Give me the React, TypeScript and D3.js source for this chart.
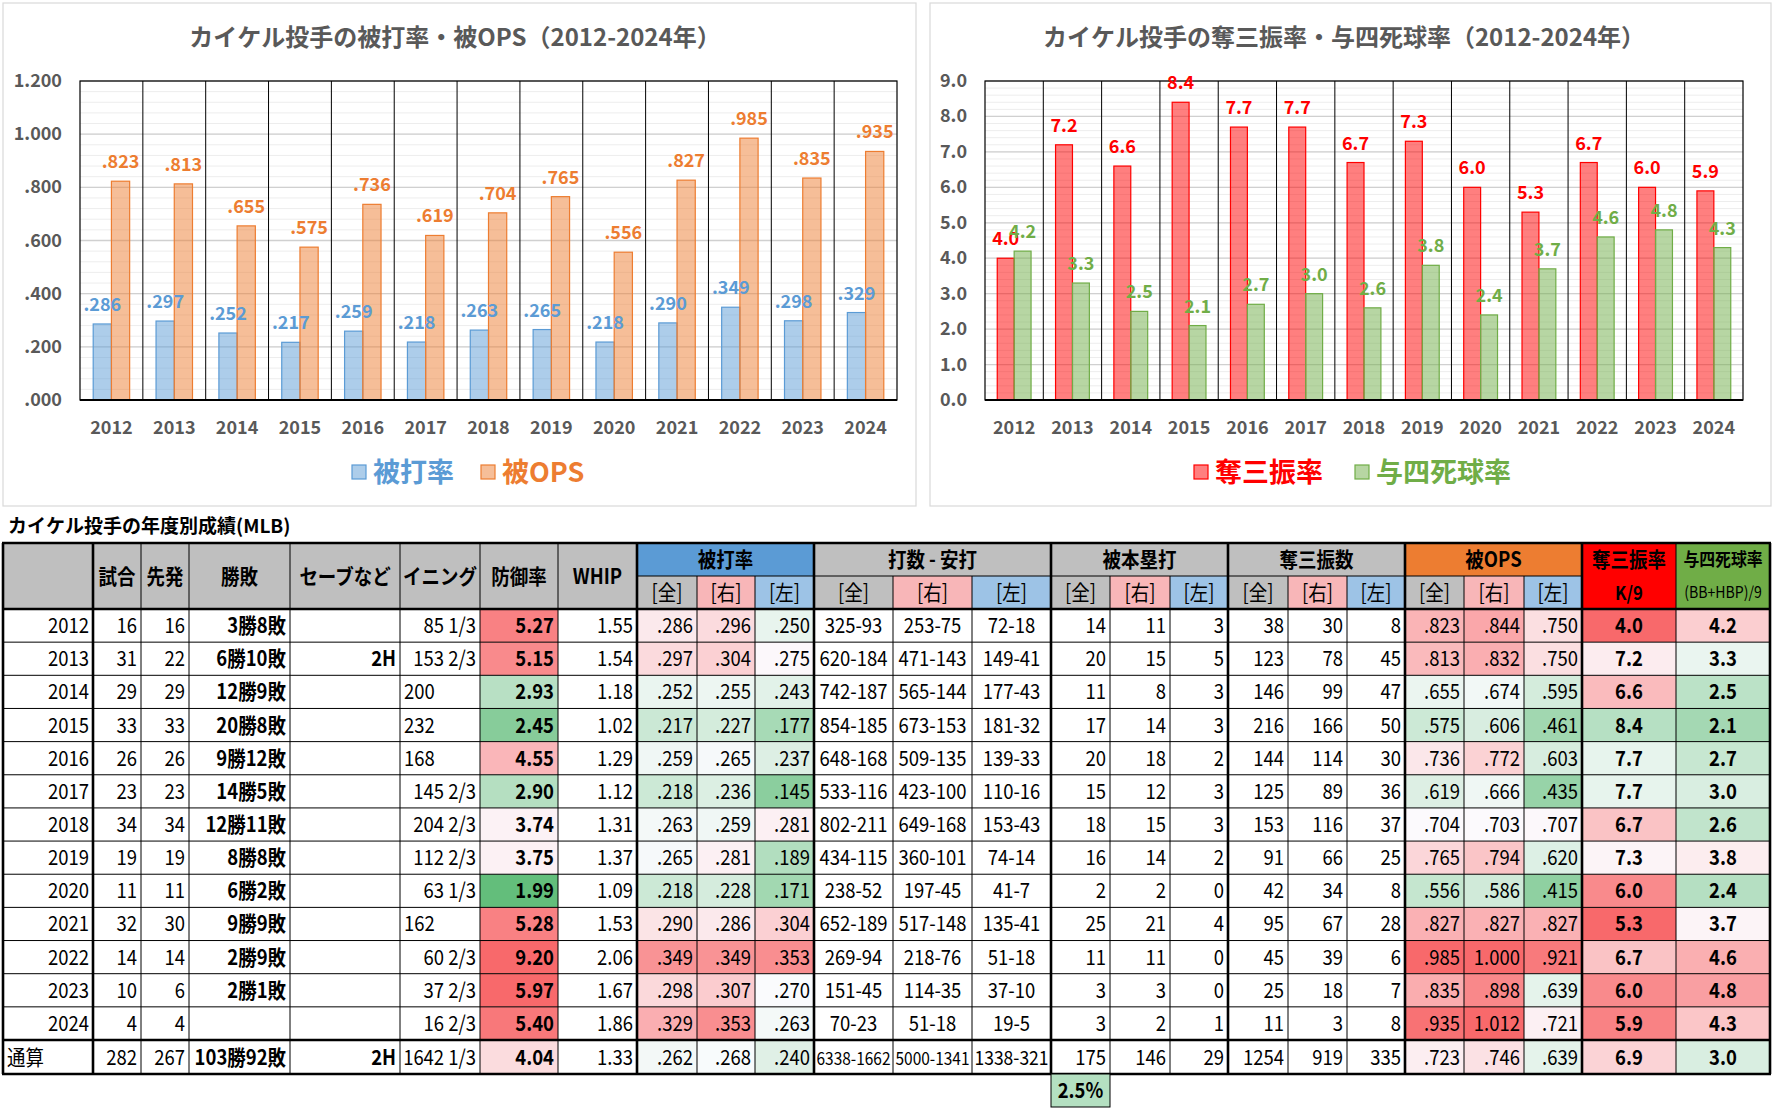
import React, { useLayoutEffect, useRef } from 'react';
import * as d3 from 'd3';

// ---------------- DATA ----------------
const years = [2012, 2013, 2014, 2015, 2016, 2017, 2018, 2019, 2020, 2021, 2022, 2023, 2024];
const games = [16, 31, 29, 33, 26, 23, 34, 19, 11, 32, 14, 10, 4];
const starts = [16, 22, 29, 33, 26, 23, 34, 19, 11, 30, 14, 6, 4];
const winLoss = ['3勝8敗', '6勝10敗', '12勝9敗', '20勝8敗', '9勝12敗', '14勝5敗', '12勝11敗', '8勝8敗', '6勝2敗', '9勝9敗', '2勝9敗', '2勝1敗', ''];
const saves = ['', '2H', '', '', '', '', '', '', '', '', '', '', ''];
const innings = ['85 1/3', '153 2/3', '200', '232', '168', '145 2/3', '204 2/3', '112 2/3', '63 1/3', '162', '60 2/3', '37 2/3', '16 2/3'];
const era = [5.27, 5.15, 2.93, 2.45, 4.55, 2.90, 3.74, 3.75, 1.99, 5.28, 9.20, 5.97, 5.40];
const whip = [1.55, 1.54, 1.18, 1.02, 1.29, 1.12, 1.31, 1.37, 1.09, 1.53, 2.06, 1.67, 1.86];
const avgAll = [0.286, 0.297, 0.252, 0.217, 0.259, 0.218, 0.263, 0.265, 0.218, 0.290, 0.349, 0.298, 0.329];
const avgR = [0.296, 0.304, 0.255, 0.227, 0.265, 0.236, 0.259, 0.281, 0.228, 0.286, 0.349, 0.307, 0.353];
const avgL = [0.250, 0.275, 0.243, 0.177, 0.237, 0.145, 0.281, 0.189, 0.171, 0.304, 0.353, 0.270, 0.263];
const abhAll = ['325-93', '620-184', '742-187', '854-185', '648-168', '533-116', '802-211', '434-115', '238-52', '652-189', '269-94', '151-45', '70-23'];
const abhR = ['253-75', '471-143', '565-144', '673-153', '509-135', '423-100', '649-168', '360-101', '197-45', '517-148', '218-76', '114-35', '51-18'];
const abhL = ['72-18', '149-41', '177-43', '181-32', '139-33', '110-16', '153-43', '74-14', '41-7', '135-41', '51-18', '37-10', '19-5'];
const hrAll = [14, 20, 11, 17, 20, 15, 18, 16, 2, 25, 11, 3, 3];
const hrR = [11, 15, 8, 14, 18, 12, 15, 14, 2, 21, 11, 3, 2];
const hrL = [3, 5, 3, 3, 2, 3, 3, 2, 0, 4, 0, 0, 1];
const soAll = [38, 123, 146, 216, 144, 125, 153, 91, 42, 95, 45, 25, 11];
const soR = [30, 78, 99, 166, 114, 89, 116, 66, 34, 67, 39, 18, 3];
const soL = [8, 45, 47, 50, 30, 36, 37, 25, 8, 28, 6, 7, 8];
const opsAll = [0.823, 0.813, 0.655, 0.575, 0.736, 0.619, 0.704, 0.765, 0.556, 0.827, 0.985, 0.835, 0.935];
const opsR = [0.844, 0.832, 0.674, 0.606, 0.772, 0.666, 0.703, 0.794, 0.586, 0.827, 1.000, 0.898, 1.012];
const opsL = [0.750, 0.750, 0.595, 0.461, 0.603, 0.435, 0.707, 0.620, 0.415, 0.827, 0.921, 0.639, 0.721];
const k9 = [4.0, 7.2, 6.6, 8.4, 7.7, 7.7, 6.7, 7.3, 6.0, 5.3, 6.7, 6.0, 5.9];
const bb9 = [4.2, 3.3, 2.5, 2.1, 2.7, 3.0, 2.6, 3.8, 2.4, 3.7, 4.6, 4.8, 4.3];
const totalRow: (string | number)[] = ['通算', 282, 267, '103勝92敗', '2H', '1642 1/3', 4.04, 1.33, 0.262, 0.268, 0.240, '6338-1662', '5000-1341', '1338-321', 175, 146, 29, 1254, 919, 335, 0.723, 0.746, 0.639, 6.9, 3.0];
const hrRateText = '2.5%';

const headerSingles = ['', '試合', '先発', '勝敗', 'セーブなど', 'イニング', '防御率', 'WHIP'];
const headerGroups = ['被打率', '打数 - 安打', '被本塁打', '奪三振数', '被OPS'];
const subHeaders = ['[全]', '[右]', '[左]'];

const chart1Title = 'カイケル投手の被打率・被OPS（2012-2024年）';
const chart2Title = 'カイケル投手の奪三振率・与四死球率（2012-2024年）';
const tableTitle = 'カイケル投手の年度別成績(MLB)';

// ---------------- STYLE ----------------
const FONT = '"Noto Sans CJK JP", "Noto Sans", sans-serif';
const GREEN = '#63BE7B', WHITE = '#FCFCFF', RED = '#F8696B';
const cs = (dom: number[], reverse = false) =>
  d3.scaleLinear<string>().domain(dom).range(reverse ? [RED, WHITE, GREEN] : [GREEN, WHITE, RED]).clamp(true);
const eraColor = cs([2.1, 3.6, 5.6]);
const avgColor = cs([0.10, 0.272, 0.38]);
const opsColor = cs([0.30, 0.70, 0.95]);
const k9Color = cs([5.6, 7.4, 9.6], true);
const bb9Color = cs([1.0, 3.6, 5.5]);

const fmt3 = (v: number) => v.toFixed(3).replace(/^0\./, '.');
const fmt2 = (v: number) => v.toFixed(2);
const fmt1 = (v: number) => v.toFixed(1);

// ---------------- CHART ----------------
type Series = { values: number[]; stroke: string; fill: string; fmt: (v: number) => string; name: string; legendX: number };
type ChartProps = {
  panel: { x: number; y: number; w: number; h: number };
  plot: { l: number; t: number; r: number; b: number };
  title: string; titleX: number;
  yMax: number; major: number; minor: number; yFmt: (v: number) => string;
  series: Series[];
};

function BarChart({ panel, plot, title, titleX, yMax, major, minor, yFmt, series }: ChartProps) {
  const x = d3.scaleBand<string>().domain(years.map(String)).range([plot.l, plot.r]);
  const y = d3.scaleLinear().domain([0, yMax]).range([plot.b, plot.t]);
  const minorTicks = d3.range(0, Math.round(yMax / minor) + 1).map((i) => i * minor);
  const majorTicks = d3.range(0, Math.round(yMax / major) + 1).map((i) => i * major);
  const bw = x.bandwidth() * 0.29;
  const gx = (yr: number, k: number) => (x(String(yr)) as number) + (x.bandwidth() - bw * series.length) / 2 + k * bw;
  return (
    <g>
      <rect x={panel.x} y={panel.y} width={panel.w} height={panel.h} fill="#fff" stroke="#D9D9D9" strokeWidth={1.2} />
      <text x={titleX} y={46} textAnchor="middle" fontSize={24} fontWeight="bold" fill="#595959" fontFamily={FONT}>{title}</text>
      {minorTicks.map((t, i) => (
        <line key={'mn' + i} x1={plot.l} x2={plot.r} y1={y(t)} y2={y(t)} stroke="#EDEDED" strokeWidth={1} />
      ))}
      {majorTicks.map((t, i) => (
        <line key={'mj' + i} x1={plot.l} x2={plot.r} y1={y(t)} y2={y(t)} stroke="#D0D0D0" strokeWidth={1.3} />
      ))}
      {years.slice(1).map((yr) => (
        <line key={'v' + yr} x1={x(String(yr))} x2={x(String(yr))} y1={plot.t} y2={plot.b} stroke="#000" strokeWidth={1} />
      ))}
      {series.map((s, k) =>
        years.map((yr, i) => (
          <rect key={'b' + k + '-' + yr} x={gx(yr, k)} y={y(s.values[i])} width={bw} height={plot.b - y(s.values[i])}
            fill={s.fill} stroke={s.stroke} strokeWidth={1.2} />
        ))
      )}
      <rect x={plot.l} y={plot.t} width={plot.r - plot.l} height={plot.b - plot.t} fill="none" stroke="#000" strokeWidth={1.2} />
      <line x1={plot.l} x2={plot.r} y1={plot.b} y2={plot.b} stroke="#000" strokeWidth={2} />
      {series.map((s, k) =>
        years.map((yr, i) => (
          <text key={'l' + k + '-' + yr} x={gx(yr, k) + bw / 2} y={y(s.values[i]) - 13} textAnchor="middle" fontSize={18}
            fontWeight="bold" fill={s.stroke} fontFamily={FONT}>{s.fmt(s.values[i])}</text>
        ))
      )}
      {years.map((yr) => (
        <text key={'x' + yr} x={(x(String(yr)) as number) + x.bandwidth() / 2} y={434} textAnchor="middle" fontSize={18}
          fontWeight="bold" fill="#595959" fontFamily={FONT}>{yr}</text>
      ))}
      {majorTicks.map((t, i) => (
        <text key={'y' + i} x={plot.l - 18} y={y(t) + 6} textAnchor="end" fontSize={18} fontWeight="bold" fill="#595959" fontFamily={FONT}>{yFmt(t)}</text>
      ))}
      {series.map((s, k) => (
        <g key={'lg' + k}>
          <rect x={s.legendX} y={465} width={14} height={14} fill={s.fill} stroke={s.stroke} strokeWidth={1.2} />
          <text x={s.legendX + 21} y={482} fontSize={27} fontWeight="bold" fill={s.stroke} fontFamily={FONT}>{s.name}</text>
        </g>
      ))}
    </g>
  );
}

// ---------------- TABLE ----------------
const edges = [3, 93, 141, 189, 290, 400, 480, 558, 637, 697, 755, 814, 893, 972, 1051, 1110, 1170, 1228, 1288, 1347, 1405, 1464, 1524, 1582, 1676, 1770];
const T_TOP = 543, H1 = 576, H2 = 609, D_BOT = 1040, T_BOT = 1074;
const ROW_H = (D_BOT - H2) / years.length;
const thickIdx = [0, 1, 8, 11, 14, 17, 20, 23, 25];
const SX = 0.88;
const FS = 21;

type Col = { data: (string | number)[]; fmt?: (v: number) => string; align: 'left' | 'right' | 'center' | 'auto'; bold?: boolean; color?: (v: number) => string };
const cols: Col[] = [
  { data: years, align: 'right' },
  { data: games, align: 'right' },
  { data: starts, align: 'right' },
  { data: winLoss, align: 'right', bold: true },
  { data: saves, align: 'right', bold: true },
  { data: innings, align: 'auto' },
  { data: era, align: 'right', bold: true, fmt: fmt2, color: eraColor },
  { data: whip, align: 'right', fmt: fmt2 },
  { data: avgAll, align: 'right', fmt: fmt3, color: avgColor },
  { data: avgR, align: 'right', fmt: fmt3, color: avgColor },
  { data: avgL, align: 'right', fmt: fmt3, color: avgColor },
  { data: abhAll, align: 'center' },
  { data: abhR, align: 'center' },
  { data: abhL, align: 'center' },
  { data: hrAll, align: 'right' },
  { data: hrR, align: 'right' },
  { data: hrL, align: 'right' },
  { data: soAll, align: 'right' },
  { data: soR, align: 'right' },
  { data: soL, align: 'right' },
  { data: opsAll, align: 'right', fmt: fmt3, color: opsColor },
  { data: opsR, align: 'right', fmt: fmt3, color: opsColor },
  { data: opsL, align: 'right', fmt: fmt3, color: opsColor },
  { data: k9, align: 'center', bold: true, fmt: fmt1, color: k9Color },
  { data: bb9, align: 'center', bold: true, fmt: fmt1, color: bb9Color },
];

function CText({ x, y, anchor, bold, size = FS, sx = SX, maxw, children, fill = '#000' }: any) {
  return (
    <text transform={`translate(${x},${y}) scale(${sx},1)`} textAnchor={anchor} fontSize={size} fontWeight={bold ? 'bold' : 'normal'}
      fill={fill} fontFamily={FONT} data-maxw={maxw} data-sx={sx} data-fs={size}>{children}</text>
  );
}

function cellTextEl(key: string, text: string, j: number, top: number, h: number, align: string, bold?: boolean) {
  const l = edges[j], r = edges[j + 1];
  let a = align;
  if (a === 'auto') a = text.includes('/') ? 'right' : 'left';
  const x = a === 'right' ? r - 4 : a === 'left' ? l + 4 : (l + r) / 2;
  const anchor = a === 'right' ? 'end' : a === 'left' ? 'start' : 'middle';
  return <CText key={key} x={x} y={top + h / 2 + 7.5} anchor={anchor} bold={bold} maxw={r - l - 5}>{text}</CText>;
}

const groupFill = ['#5B9BD5', '#BFBFBF', '#BFBFBF', '#BFBFBF', '#ED7D31'];
const subFill = ['#BFBFBF', '#F8B6B8', '#9DC3E6'];

function Table() {
  const fills: JSX.Element[] = [];
  const texts: JSX.Element[] = [];
  const lines: JSX.Element[] = [];
  headerSingles.forEach((h, j) => {
    fills.push(<rect key={'hs' + j} x={edges[j]} y={T_TOP} width={edges[j + 1] - edges[j]} height={H2 - T_TOP} fill="#BFBFBF" />);
    if (h) texts.push(<CText key={'hst' + j} x={(edges[j] + edges[j + 1]) / 2} y={(T_TOP + H2) / 2 + 7.5} anchor="middle" bold>{h}</CText>);
  });
  headerGroups.forEach((g, gi) => {
    const j0 = 8 + gi * 3;
    fills.push(<rect key={'hg' + gi} x={edges[j0]} y={T_TOP} width={edges[j0 + 3] - edges[j0]} height={H1 - T_TOP} fill={groupFill[gi]} />);
    texts.push(<CText key={'hgt' + gi} x={(edges[j0] + edges[j0 + 3]) / 2} y={(T_TOP + H1) / 2 + 7.5} anchor="middle" bold>{g}</CText>);
    subHeaders.forEach((s, si) => {
      const j = j0 + si;
      fills.push(<rect key={'sh' + j} x={edges[j]} y={H1} width={edges[j + 1] - edges[j]} height={H2 - H1} fill={subFill[si]} />);
      texts.push(<CText key={'sht' + j} x={(edges[j] + edges[j + 1]) / 2} y={(H1 + H2) / 2 + 7.5} anchor="middle">{s}</CText>);
    });
  });
  fills.push(<rect key="hk" x={edges[23]} y={T_TOP} width={edges[24] - edges[23]} height={H2 - T_TOP} fill="#FF0000" />);
  fills.push(<rect key="hb" x={edges[24]} y={T_TOP} width={edges[25] - edges[24]} height={H2 - T_TOP} fill="#70AD47" />);
  texts.push(<CText key="hkt1" x={(edges[23] + edges[24]) / 2} y={(T_TOP + H1) / 2 + 7.5} anchor="middle" bold>奪三振率</CText>);
  texts.push(<CText key="hkt2" x={(edges[23] + edges[24]) / 2} y={(H1 + H2) / 2 + 7.5} anchor="middle" bold size={19}>K/9</CText>);
  texts.push(<CText key="hbt1" x={(edges[24] + edges[25]) / 2} y={(T_TOP + H1) / 2 + 6.5} anchor="middle" bold size={18}>与四死球率</CText>);
  texts.push(<CText key="hbt2" x={(edges[24] + edges[25]) / 2} y={(H1 + H2) / 2 + 5.5} anchor="middle" size={16} maxw={edges[25] - edges[24] - 3}>(BB+HBP)/9</CText>);

  years.forEach((yr, i) => {
    const top = H2 + i * ROW_H;
    cols.forEach((c, j) => {
      const v = c.data[i];
      const text = typeof v === 'number' ? (c.fmt ? c.fmt(v) : String(v)) : v;
      const fill = c.color && typeof v === 'number' ? c.color(v) : '#fff';
      fills.push(<rect key={`d${i}-${j}`} x={edges[j]} y={top} width={edges[j + 1] - edges[j]} height={ROW_H} fill={fill} />);
      if (text) texts.push(cellTextEl(`dt${i}-${j}`, text, j, top, ROW_H, c.align, c.bold));
    });
  });
  cols.forEach((c, j) => {
    const v = totalRow[j];
    const text = typeof v === 'number' ? (c.fmt ? c.fmt(v) : String(v)) : v;
    const fill = c.color && typeof v === 'number' ? c.color(v) : '#fff';
    fills.push(<rect key={`t${j}`} x={edges[j]} y={D_BOT} width={edges[j + 1] - edges[j]} height={T_BOT - D_BOT} fill={fill} />);
    texts.push(cellTextEl(`tt${j}`, text, j, D_BOT, T_BOT - D_BOT, j === 0 ? 'left' : c.align, c.bold));
  });

  for (let i = 1; i < years.length; i++) {
    const yy = H2 + i * ROW_H;
    lines.push(<line key={'hl' + i} x1={edges[0]} x2={edges[25]} y1={yy} y2={yy} stroke="#000" strokeWidth={1} />);
  }
  lines.push(<line key="h1" x1={edges[8]} x2={edges[23]} y1={H1} y2={H1} stroke="#000" strokeWidth={1} />);
  const subOnly = new Set([9, 10, 12, 13, 15, 16, 18, 19, 21, 22]);
  edges.forEach((e, k) => {
    lines.push(<line key={'vl' + k} x1={e} x2={e} y1={subOnly.has(k) ? H1 : T_TOP} y2={T_BOT} stroke="#000" strokeWidth={1} />);
  });
  [T_TOP, H2, D_BOT, T_BOT].forEach((yy, k) => {
    lines.push(<line key={'th' + k} x1={edges[0] - 1} x2={edges[25] + 1} y1={yy} y2={yy} stroke="#000" strokeWidth={2.6} />);
  });
  thickIdx.forEach((k) => {
    lines.push(<line key={'tv' + k} x1={edges[k]} x2={edges[k]} y1={T_TOP} y2={T_BOT} stroke="#000" strokeWidth={2.6} />);
  });

  return (
    <g>
      <text x={8} y={533} fontSize={19} fontWeight="bold" fill="#000" fontFamily={FONT}>{tableTitle}</text>
      {fills}
      {lines}
      {texts}
      <rect x={edges[14]} y={T_BOT} width={edges[15] - edges[14]} height={33} fill="#B4E0C1" stroke="#000" strokeWidth={1} />
      <CText x={(edges[14] + edges[15]) / 2} y={T_BOT + 16.5 + 7.5} anchor="middle" bold>{hrRateText}</CText>
    </g>
  );
}

export default function App() {
  const ref = useRef<SVGSVGElement>(null);
  useLayoutEffect(() => {
    const svg = ref.current;
    if (!svg) return;
    svg.querySelectorAll('text[data-maxw]').forEach((el: any) => {
      const maxw = +el.getAttribute('data-maxw');
      const sx = +(el.getAttribute('data-sx') || 1);
      const fs = +(el.getAttribute('data-fs') || FS);
      const len = el.getComputedTextLength() * sx;
      if (len > maxw) {
        el.setAttribute('font-size', String(fs * maxw / len));
      }
    });
  }, []);
  return (
    <svg ref={ref} width={1774} height={1110} style={{ position: 'absolute', left: 0, top: 0, background: '#fff' }}>
      <rect x={0} y={0} width={1774} height={1110} fill="#fff" />
      <BarChart
        panel={{ x: 3, y: 3, w: 913, h: 503 }}
        plot={{ l: 80, t: 81, r: 897, b: 400 }}
        title={chart1Title} titleX={455}
        yMax={1.2} major={0.2} minor={0.04} yFmt={fmt3}
        series={[
          { values: avgAll, stroke: '#5B9BD5', fill: 'rgba(91,155,213,0.5)', fmt: fmt3, name: '被打率', legendX: 352 },
          { values: opsAll, stroke: '#ED7D31', fill: 'rgba(237,125,49,0.5)', fmt: fmt3, name: '被OPS', legendX: 481 },
        ]}
      />
      <BarChart
        panel={{ x: 930, y: 3, w: 841, h: 503 }}
        plot={{ l: 985, t: 81, r: 1743, b: 400 }}
        title={chart2Title} titleX={1344}
        yMax={9} major={1} minor={0.2} yFmt={fmt1}
        series={[
          { values: k9, stroke: '#FF0000', fill: 'rgba(255,0,0,0.5)', fmt: fmt1, name: '奪三振率', legendX: 1194 },
          { values: bb9, stroke: '#70AD47', fill: 'rgba(112,173,71,0.5)', fmt: fmt1, name: '与四死球率', legendX: 1355 },
        ]}
      />
      <Table />
    </svg>
  );
}
